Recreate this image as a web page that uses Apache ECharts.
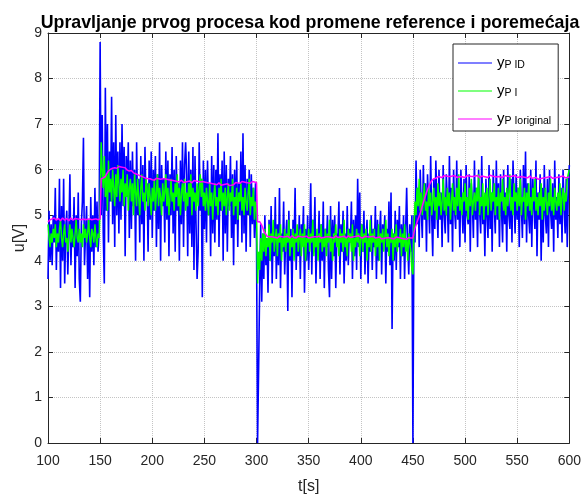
<!DOCTYPE html>
<html>
<head>
<meta charset="utf-8">
<script src="https://cdn.jsdelivr.net/npm/echarts@6/dist/echarts.min.js"></script>
<style>html,body{margin:0;padding:0;background:#fff}#c{width:584px;height:500px}</style>
</head>
<body>
<div id="c"></div>
<script>
// time grid: one sample per second, from 100 s to 600 s
const tStart = 100;
const xTicks = [100,150,200,250,300,350,400,450,500,550,600];
const yTicks = [0,1,2,3,4,5,6,7,8,9];
const legendSubs = ['P ID','P I','P Ioriginal'];
const seriesColors = ['#0000ff','#00ff00','#ff00ff'];

const yPID = [
3.6,5.1,4.0,4.8,3.9,5.0,4.4,5.6,3.8,4.9,
4.2,5.8,3.4,5.2,4.0,5.8,3.5,4.7,5.1,3.7,
4.6,5.9,3.9,4.9,4.3,5.4,3.4,5.0,4.1,5.5,
3.6,3.1,4.8,5.3,6.7,3.9,4.6,5.2,3.6,4.9,
3.2,5.4,4.2,5.0,3.9,5.6,4.3,5.3,4.2,4.6,
8.8,5.0,7.2,4.6,3.5,7.8,5.1,7.0,4.4,6.4,
5.3,7.6,4.8,6.6,4.3,7.2,5.0,6.4,4.6,6.6,
4.9,7.0,5.2,6.5,4.1,6.3,5.4,6.6,4.5,6.2,
4.7,6.4,5.2,6.0,4.0,6.6,5.0,5.8,4.4,6.3,
4.8,6.1,4.0,6.5,5.3,5.7,4.2,6.2,4.9,6.4,
4.5,6.0,5.1,6.3,4.3,5.9,4.7,6.6,4.0,6.1,
5.2,5.8,4.4,6.4,4.9,6.2,4.1,5.9,5.0,6.5,
4.6,6.0,4.2,6.3,5.1,5.7,4.0,6.2,4.8,6.6,
4.3,6.1,6.6,5.9,4.1,6.4,4.6,6.0,4.3,6.5,
3.8,6.3,4.8,3.6,4.2,6.6,5.1,5.8,3.2,6.2,
4.7,6.0,4.4,6.2,5.0,5.7,4.1,6.3,4.6,6.1,
4.4,6.0,4.9,6.8,4.3,5.9,5.1,6.2,4.0,6.4,
4.6,6.1,4.2,5.8,5.2,6.3,4.5,5.9,3.9,6.0,
4.8,6.2,4.3,5.7,5.0,6.4,4.4,6.8,4.6,6.1,
4.2,5.8,5.0,6.0,4.3,5.9,4.8,5.6,4.5,5.7,
4.4,0.0,1.6,3.4,4.8,3.1,4.6,3.6,5.0,3.9,
4.5,3.3,4.9,4.0,5.2,3.5,4.7,4.1,5.4,3.6,
4.8,3.9,5.6,3.4,4.6,4.2,5.3,3.7,4.5,4.9,
2.9,5.1,4.0,4.7,3.2,4.9,4.3,5.6,3.8,4.6,
4.1,5.0,3.6,4.8,4.4,5.2,3.3,4.7,4.0,5.0,
3.8,4.6,5.7,3.7,4.9,4.2,5.4,3.5,4.6,4.3,
5.1,3.6,4.8,4.0,5.3,3.4,4.7,4.3,5.0,3.8,
3.2,5.2,3.6,4.9,4.1,5.0,3.4,4.6,4.4,5.3,
3.7,4.8,4.2,5.1,3.5,4.6,4.0,5.2,3.9,4.7,
4.4,5.3,3.6,4.9,4.1,5.0,3.8,5.8,4.3,5.5,
3.6,4.8,4.2,5.1,3.7,4.5,4.9,3.5,4.6,4.2,
5.0,3.8,4.7,4.3,5.2,3.6,4.9,4.0,4.6,5.1,
3.7,4.8,4.4,5.0,3.5,4.7,4.2,5.3,3.9,5.5,
2.5,4.6,4.0,5.1,3.8,4.9,4.3,5.2,3.6,4.8,
4.1,5.0,3.6,4.7,5.6,4.4,3.7,4.8,4.2,5.0,
0.0,5.0,4.4,6.2,4.8,5.6,4.3,6.0,5.1,4.5,
6.1,4.9,5.7,4.2,5.9,5.3,4.6,6.3,5.0,4.1,
5.8,4.7,6.2,5.2,4.5,6.0,4.9,5.5,4.3,6.1,
5.0,4.6,5.9,5.3,4.4,6.3,4.8,5.6,4.2,6.0,
5.1,4.7,6.2,4.9,5.5,4.3,6.0,5.2,4.6,5.8,
4.4,6.1,5.0,4.8,5.9,4.2,5.7,5.3,4.5,6.2,
4.9,5.6,4.3,6.0,5.1,4.6,6.3,4.8,5.4,4.1,
5.8,5.0,4.5,6.1,4.7,5.5,4.2,6.0,5.2,4.6,
6.2,4.9,5.7,4.3,5.9,5.1,4.4,6.0,4.8,5.5,
4.2,6.1,5.0,4.7,5.8,4.4,6.2,5.3,4.6,5.9,
4.9,5.6,4.3,6.0,5.2,4.5,6.1,4.8,6.4,4.4,
5.7,5.0,4.6,6.0,4.3,5.8,5.2,4.7,6.2,4.1,
5.5,4.9,5.9,4.0,5.6,4.4,6.1,5.0,4.6,5.8,
4.3,6.0,5.1,4.7,5.7,4.2,6.2,4.9,5.4,4.5,
5.9,4.8,5.6,4.4,6.0,5.2,4.6,5.8,4.3,5.5,
6.1
];

const yPI = [
4.8,4.5,4.3,4.6,4.4,4.7,4.5,4.8,4.3,4.6,
4.4,4.7,4.9,4.5,4.3,4.6,4.8,4.4,4.5,4.2,
4.6,4.8,4.4,4.7,4.5,4.3,4.6,4.9,4.5,4.4,
4.7,4.4,4.6,4.3,4.8,4.5,4.7,4.4,4.6,4.9,
4.5,4.3,4.7,4.6,4.4,4.8,4.5,4.3,4.6,4.5,
5.2,6.6,6.0,5.6,6.3,5.4,5.9,5.1,6.2,5.5,
5.8,5.3,6.0,5.6,5.2,5.9,5.4,6.1,5.7,5.3,
5.8,5.5,6.0,5.2,5.7,5.4,5.9,5.1,5.6,5.8,
5.3,5.7,5.0,5.9,5.5,5.2,5.8,5.4,5.0,5.6,
5.9,5.3,5.5,5.1,5.8,5.6,5.2,5.7,5.4,5.0,
5.6,5.3,5.8,5.1,5.5,5.9,5.2,5.6,5.4,5.0,
5.7,5.3,5.5,5.9,5.2,5.6,5.0,5.4,5.8,5.3,
5.5,5.1,5.7,5.4,5.9,5.2,5.6,5.0,5.5,5.7,
5.3,5.8,5.1,5.5,5.2,5.7,5.4,5.9,5.0,5.6,
5.3,5.5,5.1,5.7,5.2,5.6,5.9,5.4,5.8,5.2,
5.5,5.1,5.6,5.3,5.0,5.7,5.2,5.5,4.9,5.4,
5.7,5.2,5.4,5.0,5.6,5.3,5.8,5.1,5.5,5.2,
5.6,5.0,5.4,5.7,5.1,5.5,5.3,5.8,5.0,5.4,
5.2,5.6,4.9,5.5,5.3,5.7,5.1,5.4,5.0,5.6,
5.3,5.1,5.5,5.8,5.0,5.4,5.2,5.6,4.9,5.3,
5.1,3.5,4.2,3.8,4.5,4.0,4.6,4.2,4.7,4.1,
4.5,4.3,4.8,4.0,4.6,4.4,4.9,4.2,4.5,4.7,
4.1,4.6,4.4,4.8,4.0,4.5,4.3,4.7,4.2,4.6,
4.4,4.9,4.1,4.5,4.3,4.7,4.0,4.6,4.4,4.8,
4.2,4.5,4.7,4.1,4.6,4.3,4.8,4.0,4.5,4.4,
4.7,4.2,4.6,4.4,4.9,4.1,4.5,4.3,4.7,4.0,
4.6,4.4,4.8,4.2,4.5,4.3,4.7,4.1,4.6,4.4,
4.9,4.2,4.5,4.0,4.6,4.4,4.8,4.3,4.5,4.1,
4.7,4.4,4.6,4.2,4.9,4.3,4.5,4.1,4.7,4.4,
4.6,4.2,4.8,4.0,4.5,4.3,4.7,4.4,4.6,4.1,
4.5,4.8,4.2,4.6,4.4,4.7,4.0,4.5,4.3,4.9,
4.2,4.6,4.4,4.7,4.1,4.5,4.3,4.8,4.0,4.6,
4.4,4.7,4.2,4.5,4.9,4.3,4.6,4.1,4.5,4.4,
4.7,4.0,4.6,4.3,4.8,4.2,4.5,4.4,4.7,4.1,
4.6,4.3,4.8,4.2,4.5,4.0,4.6,4.4,4.2,3.8,
3.7,4.7,5.3,5.0,5.6,5.2,5.8,5.1,5.5,5.0,
5.4,5.7,5.1,5.3,4.9,5.6,5.2,5.5,5.0,5.3,
5.6,5.1,5.4,4.9,5.7,5.2,5.5,5.0,5.3,5.8,
5.1,5.4,5.0,5.6,5.2,5.5,4.9,5.3,5.7,5.1,
5.4,5.0,5.6,5.2,5.9,5.1,5.4,5.0,5.5,5.3,
5.7,5.1,5.4,4.9,5.6,5.2,5.8,5.0,5.3,5.5,
5.1,5.6,5.3,5.9,5.0,5.4,5.2,5.7,4.9,5.5,
5.2,5.6,5.0,5.4,5.8,5.1,5.5,5.3,5.7,5.0,
5.4,5.2,5.6,4.9,5.5,5.3,5.8,5.1,5.4,5.0,
5.6,5.2,5.5,5.9,5.1,5.4,5.0,5.7,5.3,5.5,
5.1,5.6,5.2,5.8,5.0,5.4,5.3,5.6,4.9,5.5,
5.2,5.7,5.1,5.4,5.0,5.6,5.3,5.8,5.1,5.4,
5.0,5.5,5.2,5.7,4.9,5.4,5.1,5.6,5.3,5.0,
5.5,5.2,5.8,5.1,5.4,5.0,5.6,5.3,5.1,5.5,
5.2,5.7,5.0,5.4,5.6,5.1,5.5,5.3,5.8,5.9,
6.0
];

const yPoriginal = [
4.85,4.88,4.90,4.93,4.92,4.90,4.94,4.91,4.89,4.92,
4.93,4.90,4.88,4.91,4.94,4.92,4.89,4.90,4.93,4.91,
4.88,4.92,4.94,4.90,4.89,4.91,4.93,4.90,4.92,4.88,
4.91,4.94,4.90,4.89,4.92,4.93,4.90,4.88,4.91,4.94,
4.92,4.89,4.90,4.93,4.91,4.88,4.92,4.94,4.90,4.91,
4.92,5.80,5.84,5.82,5.86,5.85,5.90,5.94,5.97,5.99,
6.01,5.99,6.03,6.05,6.04,6.06,6.03,6.05,6.07,6.04,
6.06,6.03,6.05,6.02,6.04,6.01,5.99,6.00,5.97,5.96,
5.98,5.95,5.93,5.94,5.91,5.92,5.89,5.90,5.87,5.88,
5.85,5.86,5.83,5.84,5.81,5.82,5.80,5.78,5.80,5.79,
5.78,5.80,5.77,5.79,5.81,5.78,5.80,5.82,5.79,5.81,
5.80,5.78,5.80,5.77,5.79,5.76,5.78,5.75,5.77,5.74,
5.76,5.78,5.75,5.77,5.74,5.76,5.73,5.75,5.77,5.74,
5.72,5.75,5.73,5.76,5.74,5.72,5.75,5.73,5.71,5.74,
5.76,5.73,5.75,5.72,5.74,5.76,5.73,5.71,5.74,5.72,
5.73,5.70,5.72,5.69,5.71,5.68,5.70,5.72,5.69,5.71,
5.68,5.70,5.67,5.69,5.71,5.68,5.66,5.69,5.67,5.70,
5.68,5.66,5.69,5.67,5.65,5.68,5.66,5.69,5.67,5.70,
5.72,5.69,5.71,5.73,5.70,5.72,5.74,5.71,5.73,5.70,
5.72,5.74,5.71,5.73,5.70,5.72,5.74,5.71,5.73,5.72,
5.72,4.85,4.84,4.86,4.83,4.78,4.72,4.66,4.61,4.57,
4.54,4.52,4.53,4.51,4.53,4.50,4.52,4.54,4.51,4.53,
4.50,4.52,4.54,4.51,4.53,4.55,4.52,4.50,4.53,4.51,
4.54,4.52,4.50,4.53,4.55,4.52,4.51,4.53,4.50,4.52,
4.54,4.51,4.53,4.50,4.52,4.55,4.53,4.51,4.54,4.52,
4.50,4.53,4.51,4.54,4.52,4.50,4.53,4.55,4.52,4.51,
4.54,4.52,4.50,4.53,4.51,4.54,4.52,4.55,4.53,4.51,
4.52,4.54,4.51,4.53,4.50,4.52,4.55,4.53,4.51,4.54,
4.52,4.50,4.53,4.51,4.54,4.52,4.50,4.53,4.55,4.52,
4.51,4.54,4.52,4.50,4.53,4.51,4.54,4.52,4.55,4.53,
4.51,4.53,4.50,4.52,4.54,4.51,4.53,4.55,4.52,4.50,
4.53,4.51,4.54,4.52,4.50,4.53,4.51,4.49,4.52,4.50,
4.48,4.51,4.49,4.52,4.50,4.48,4.51,4.53,4.50,4.52,
4.49,4.51,4.48,4.50,4.52,4.49,4.51,4.48,4.50,4.52,
4.49,4.51,4.48,4.50,4.47,4.49,4.51,4.48,4.50,4.49,
4.50,4.62,4.72,4.78,4.85,4.92,4.98,5.05,5.12,5.20,
5.28,5.35,5.42,5.50,5.56,5.62,5.68,5.72,5.76,5.78,
5.80,5.82,5.81,5.83,5.85,5.82,5.84,5.86,5.83,5.85,
5.87,5.84,5.86,5.83,5.85,5.88,5.85,5.83,5.86,5.84,
5.87,5.85,5.83,5.86,5.84,5.82,5.85,5.87,5.84,5.86,
5.83,5.85,5.87,5.84,5.86,5.83,5.85,5.88,5.85,5.83,
5.86,5.84,5.87,5.85,5.82,5.84,5.86,5.83,5.85,5.87,
5.84,5.86,5.83,5.85,5.88,5.84,5.86,5.83,5.85,5.87,
5.84,5.82,5.85,5.87,5.84,5.86,5.83,5.85,5.87,5.84,
5.86,5.83,5.85,5.88,5.85,5.83,5.86,5.84,5.87,5.85,
5.83,5.86,5.84,5.82,5.85,5.87,5.84,5.86,5.83,5.85,
5.82,5.84,5.86,5.83,5.81,5.84,5.82,5.80,5.83,5.81,
5.79,5.82,5.80,5.83,5.81,5.84,5.82,5.80,5.83,5.81,
5.84,5.82,5.85,5.83,5.81,5.84,5.82,5.85,5.83,5.81,
5.84,5.82,5.85,5.83,5.86,5.84,5.82,5.85,5.83,5.86,
5.84
];

function pairs(vals) { return vals.map((v, i) => [tStart + i, v]); }

const FONT = '"Liberation Sans", Arial, Helvetica, sans-serif';
const INK = '#262626';
const names = legendSubs.map(s => 'y' + s);

const chart = echarts.init(document.getElementById('c'), null, {renderer: 'canvas'});
const xMin = xTicks[0], xMax = xTicks[xTicks.length - 1], xInt = xTicks[1] - xTicks[0];
const yMin = yTicks[0], yMax = yTicks[yTicks.length - 1], yInt = yTicks[1] - yTicks[0];

const baseTick = {show: true, inside: true, length: 5, lineStyle: {color: INK, width: 1}};
const baseLine = {show: true, onZero: false, lineStyle: {color: INK, width: 1}};

chart.setOption({
  animation: false,
  backgroundColor: '#ffffff',
  title: {
    text: 'Upravljanje prvog procesa kod promene reference i poremećaja',
    left: 305, top: 9, textAlign: 'center',
    textStyle: {fontFamily: FONT, fontSize: 17.8, fontWeight: 'bold', color: '#000'}
  },
  grid: {left: 48, right: 14, top: 33, bottom: 55, containLabel: false},
  legend: {
    orient: 'vertical', left: 453, top: 44,
    padding: [3, 7, 4, 5], itemGap: 4, itemWidth: 34, itemHeight: 1.2,
    icon: 'rect',
    backgroundColor: '#ffffff', borderColor: INK, borderWidth: 1, borderRadius: 0,
    data: names,
    formatter: function (name) { return '{y|y}{s|' + name.slice(1) + '}'; },
    textStyle: {
      fontFamily: FONT, color: '#000',
      rich: {
        y: {fontFamily: FONT, fontSize: 15, lineHeight: 16, verticalAlign: 'top', color: '#000'},
        s: {fontFamily: FONT, fontSize: 10.5, lineHeight: 12, padding: [13, 0, 0, 0], verticalAlign: 'bottom', color: '#000'}
      }
    }
  },
  xAxis: [
    {
      type: 'value', min: xMin, max: xMax, interval: xInt, position: 'bottom',
      name: 't[s]', nameLocation: 'middle', nameGap: 36, nameMoveOverlap: false,
      nameTextStyle: {fontFamily: FONT, fontSize: 16, color: INK},
      axisLine: baseLine, axisTick: baseTick,
      axisLabel: {fontFamily: FONT, fontSize: 14, color: INK, margin: 11},
      splitLine: {show: true, lineStyle: {color: '#c4c4c4', type: 'dotted', width: 1}}
    },
    {
      type: 'value', min: xMin, max: xMax, interval: xInt, position: 'top',
      axisLine: baseLine, axisTick: baseTick, axisLabel: {show: false}, splitLine: {show: false}
    }
  ],
  yAxis: [
    {
      type: 'value', min: yMin, max: yMax, interval: yInt, position: 'left',
      name: 'u[V]', nameLocation: 'middle', nameGap: 20, nameRotate: 90, nameMoveOverlap: false,
      nameTextStyle: {fontFamily: FONT, fontSize: 16, color: INK},
      axisLine: baseLine, axisTick: baseTick,
      axisLabel: {fontFamily: FONT, fontSize: 14, color: INK, margin: 6},
      splitLine: {show: true, lineStyle: {color: '#c4c4c4', type: 'dotted', width: 1}}
    },
    {
      type: 'value', min: yMin, max: yMax, interval: yInt, position: 'right',
      axisLine: baseLine, axisTick: baseTick, axisLabel: {show: false}, splitLine: {show: false}
    }
  ],
  series: [
    {name: names[0], type: 'line', data: pairs(yPID), xAxisIndex: 0, yAxisIndex: 0,
     symbol: 'none', showSymbol: false, lineStyle: {color: seriesColors[0], width: 1.6}, itemStyle: {color: seriesColors[0]}},
    {name: names[1], type: 'line', data: pairs(yPI), xAxisIndex: 0, yAxisIndex: 0,
     symbol: 'none', showSymbol: false, lineStyle: {color: seriesColors[1], width: 1.5}, itemStyle: {color: seriesColors[1]}},
    {name: names[2], type: 'line', data: pairs(yPoriginal), xAxisIndex: 0, yAxisIndex: 0,
     symbol: 'none', showSymbol: false, lineStyle: {color: seriesColors[2], width: 1.5}, itemStyle: {color: seriesColors[2]}}
  ]
});
</script>
</body>
</html>
